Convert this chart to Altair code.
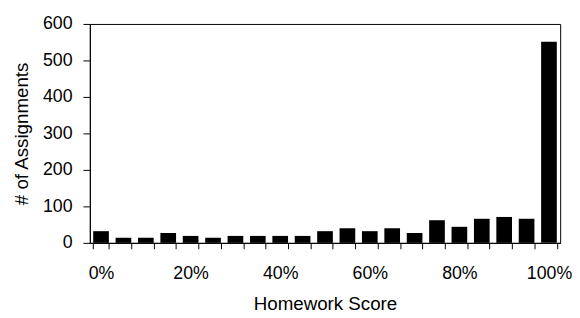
import altair as alt
import pandas as pd

scores = list(range(0, 105, 5))
counts = [32, 14, 14, 27, 19, 14, 19, 19, 19, 19, 32, 40, 32, 40, 27, 62, 44, 66, 71, 66, 551]

df = pd.DataFrame({"score": scores, "count": counts})

font = "Liberation Sans"
lfs = 18
tfs = 19

chart = alt.Chart(df).mark_bar(color="black").encode(
    x=alt.X(
        "score:O",
        title="Homework Score",
        scale=alt.Scale(paddingInner=0.3, paddingOuter=0.15),
        axis=alt.Axis(
            labelExpr="datum.value % 20 == 0 ? datum.value + '%' : ''",
            labelAngle=0,
            tickBand="extent",
            tickSize=6,
            tickColor="black",
            domainColor="black",
            labelPadding=16,
            titlePadding=13,
            labelFontSize=lfs,
            titleFontSize=tfs,
            titleFontWeight="normal",
            labelFont=font,
            titleFont=font,
            labelColor="black",
            titleColor="black",
        ),
    ),
    y=alt.Y(
        "count:Q",
        title="# of Assignments",
        scale=alt.Scale(domain=[0, 600]),
        axis=alt.Axis(
            values=[0, 100, 200, 300, 400, 500, 600],
            grid=False,
            tickSize=7,
            tickColor="black",
            domainColor="black",
            labelPadding=11,
            titlePadding=11,
            labelFontSize=lfs,
            titleFontSize=tfs,
            titleFontWeight="normal",
            labelFont=font,
            titleFont=font,
            labelColor="black",
            titleColor="black",
        ),
    ),
).properties(
    width=477,
    height=222,
    padding={"left": 4, "top": 5, "right": 0, "bottom": 0},
).configure_view(stroke="black", strokeWidth=1)

chart.save("out.html", embed_options={"renderer": "svg", "actions": False})
